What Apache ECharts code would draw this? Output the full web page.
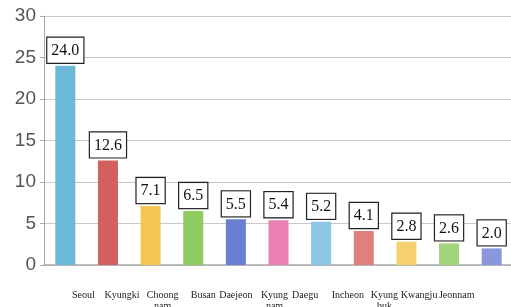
<!DOCTYPE html>
<html>
<head>
<meta charset="utf-8">
<script src="https://cdn.jsdelivr.net/npm/echarts@6/dist/echarts.min.js"></script>
<style>
  html, body { margin: 0; padding: 0; background: #fff; }
  #chart { width: 511px; height: 307px; }
</style>
</head>
<body>
<div id="chart"></div>
<script>
var regions = ['Seoul', 'Kyungki', 'Choong\nnam', 'Busan', 'Daejeon', 'Kyung\nnam',
  'Daegu', 'Incheon', 'Kyung\nbuk', 'Kwangju', 'Jeonnam'];
var values = [24.0, 12.6, 7.1, 6.5, 5.5, 5.4, 5.2, 4.1, 2.8, 2.6, 2.0];
var barColors = ['#6cb8d8', '#d2605f', '#f3c551', '#8ecb60', '#6b7fd2', '#e97fb3',
  '#8dc6e4', '#e07f7d', '#f6d070', '#a2d47c', '#8a97dc'];
// horizontal nudge of each category name (the source labels don't sit under their bars)
var labelShift = [18, 14, 12, 10, 0, -4, -16, -16, -22, -30, -35];

var rich = {};
labelShift.forEach(function (s, i) {
  rich['r' + i] = {
    fontFamily: 'Liberation Serif',
    fontSize: 10,
    lineHeight: 11,
    color: '#222',
    padding: s > 0 ? [0, 0, 0, 2 * s] : [0, -2 * s, 0, 0]
  };
});

var chart = echarts.init(document.getElementById('chart'));
chart.setOption({
  animation: false,
  grid: { left: 44, right: -2, top: 16, bottom: 42, outerBoundsMode: 'none' },
  xAxis: {
    type: 'category',
    data: regions,
    axisLine: { lineStyle: { color: '#aaa', width: 1.5 } },
    axisTick: { show: false },
    axisLabel: {
      interval: 0,
      margin: 25,
      formatter: function (v, i) {
        return v.split('\n').map(function (t) { return '{r' + i + '|' + t + '}'; }).join('\n');
      },
      rich: rich
    }
  },
  yAxis: {
    type: 'value',
    min: 0,
    max: 30,
    interval: 5,
    axisLine: { show: true, lineStyle: { color: '#aaa' } },
    axisTick: { show: true, length: 4, lineStyle: { color: '#aaa' } },
    splitLine: { lineStyle: { color: '#c8c8c8', width: 1.2 } },
    axisLabel: {
      margin: 8,
      color: '#555',
      fontFamily: 'Liberation Sans',
      fontSize: 19
    }
  },
  series: [{
    type: 'bar',
    data: values,
    barWidth: 20,
    itemStyle: {
      color: function (p) { return barColors[p.dataIndex]; }
    },
    label: {
      show: true,
      position: 'top',
      distance: 3,
      formatter: function (p) { return p.value.toFixed(1); },
      color: '#111',
      fontFamily: 'Liberation Serif',
      fontSize: 16,
      backgroundColor: '#fff',
      borderColor: '#222',
      borderWidth: 1.2,
      padding: [5, 4, 4, 4]
    }
  }]
});
</script>
</body>
</html>
